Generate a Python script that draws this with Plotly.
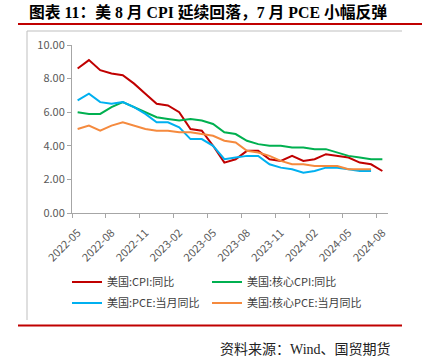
import plotly.graph_objects as go

months = ['2022-05', '2022-06', '2022-07', '2022-08', '2022-09', '2022-10', '2022-11', '2022-12',
          '2023-01', '2023-02', '2023-03', '2023-04', '2023-05', '2023-06', '2023-07', '2023-08',
          '2023-09', '2023-10', '2023-11', '2023-12', '2024-01', '2024-02', '2024-03', '2024-04',
          '2024-05', '2024-06', '2024-07', '2024-08']

cpi = [8.6, 9.1, 8.5, 8.3, 8.2, 7.7, 7.1, 6.5, 6.4, 6.0, 5.0, 4.9, 4.0, 3.0, 3.2, 3.7,
       3.7, 3.2, 3.1, 3.4, 3.1, 3.2, 3.5, 3.4, 3.3, 3.0, 2.9, 2.5]
core_cpi = [6.0, 5.9, 5.9, 6.3, 6.6, 6.3, 6.0, 5.7, 5.6, 5.5, 5.6, 5.5, 5.3, 4.8, 4.7, 4.3,
            4.1, 4.0, 4.0, 3.9, 3.9, 3.8, 3.8, 3.6, 3.4, 3.3, 3.2, 3.2]
pce = [6.7, 7.1, 6.6, 6.5, 6.6, 6.3, 5.9, 5.4, 5.4, 5.1, 4.4, 4.4, 4.0, 3.2, 3.3, 3.4,
       3.4, 2.9, 2.7, 2.6, 2.4, 2.5, 2.7, 2.7, 2.6, 2.5, 2.5]
core_pce = [5.0, 5.2, 4.9, 5.2, 5.4, 5.2, 5.0, 4.9, 4.9, 4.8, 4.8, 4.7, 4.6, 4.3, 4.2, 3.7,
            3.6, 3.4, 3.1, 2.9, 2.9, 2.8, 2.8, 2.8, 2.6, 2.6, 2.6]

names = ['美国:CPI:同比', '美国:核心CPI:同比', '美国:PCE:当月同比', '美国:核心PCE:当月同比']
colors = ['#C00000', '#00B050', '#00B0F0', '#F58A3E']
series = [cpi, core_cpi, pce, core_pce]
legend_ids = ['legend', 'legend2', 'legend3', 'legend4']

title_text = '图表 11：美 8 月 CPI 延续回落，7 月 PCE 小幅反弹'
source_text = '资料来源：Wind、国贸期货'

W, H = 422, 363
L, R, T, B = 72, 34, 45, 150
PW, PH = W - L - R, H - T - B


def px(x):
    return (x - L) / PW


def py(y):
    return (H - B - y) / PH


fig = go.Figure()
for name, col, vals, lg in zip(names, colors, series, legend_ids):
    fig.add_trace(go.Scatter(x=months[:len(vals)], y=vals, mode='lines', name=name,
                             line=dict(color=col, width=2), legend=lg))

tick_font = dict(family='Noto Sans CJK SC', size=11, color='#595959')
leg_font = dict(family='Noto Sans CJK SC', size=11, color='#404040')

legend_pos = [(67, 282), (207, 282), (67, 303), (207, 303)]
legend_layout = {}
for lg, (lx, ly) in zip(legend_ids, legend_pos):
    legend_layout[lg] = dict(x=px(lx), y=py(ly), xanchor='left', yanchor='middle',
                             orientation='h', font=leg_font, itemwidth=30,
                             bgcolor='rgba(0,0,0,0)', borderwidth=0)

fig.update_layout(
    width=W, height=H, autosize=False,
    margin=dict(l=L, r=R, t=T, b=B, pad=0),
    paper_bgcolor='white', plot_bgcolor='white',
    showlegend=True,
    **legend_layout,
    xaxis=dict(type='category', categoryorder='array', categoryarray=months,
               range=[-0.5, len(months) - 0.5], tickmode='linear', tick0=0, dtick=3,
               tickson='boundaries', ticks='outside', ticklen=4, tickcolor='#A6A6A6',
               showline=True, linecolor='#A6A6A6', linewidth=1, showgrid=False,
               tickangle=-45, tickfont=tick_font, zeroline=False, ticklabelstandoff=8),
    yaxis=dict(range=[0, 10], dtick=2, tick0=0, tickformat='.2f', ticks='outside',
               ticklen=4, tickcolor='#A6A6A6', showline=True, linecolor='#A6A6A6',
               linewidth=1, showgrid=False, zeroline=False, tickfont=tick_font),
    shapes=[
        dict(type='line', xref='paper', yref='paper', x0=px(18), x1=px(422), y0=py(24), y1=py(24),
             line=dict(color='#C00000', width=2)),
        dict(type='line', xref='paper', yref='paper', x0=px(18), x1=px(402), y0=py(325.5), y1=py(325.5),
             line=dict(color='#C00000', width=2)),
        dict(type='line', xref='paper', yref='paper', x0=px(27), x1=px(402), y0=py(31), y1=py(31),
             line=dict(color='#BFBFBF', width=1)),
        dict(type='line', xref='paper', yref='paper', x0=px(27), x1=px(27), y0=py(31), y1=py(320),
             line=dict(color='#BFBFBF', width=1)),
    ],
    annotations=[
        dict(text='<b>' + title_text + '</b>', xref='paper', yref='paper', x=px(27), y=py(12),
             xanchor='left', yanchor='middle', showarrow=False,
             font=dict(family='Liberation Serif, Noto Sans CJK SC', size=15.8, color='#000000')),
        dict(text=source_text, xref='paper', yref='paper', x=px(393), y=py(349),
             xanchor='right', yanchor='middle', showarrow=False,
             font=dict(family='Liberation Serif, Noto Sans CJK SC', size=14, color='#222222')),
    ],
)

fig.write_html('out.html', config={'displayModeBar': False},
               post_script="document.body.style.margin='0px';")
